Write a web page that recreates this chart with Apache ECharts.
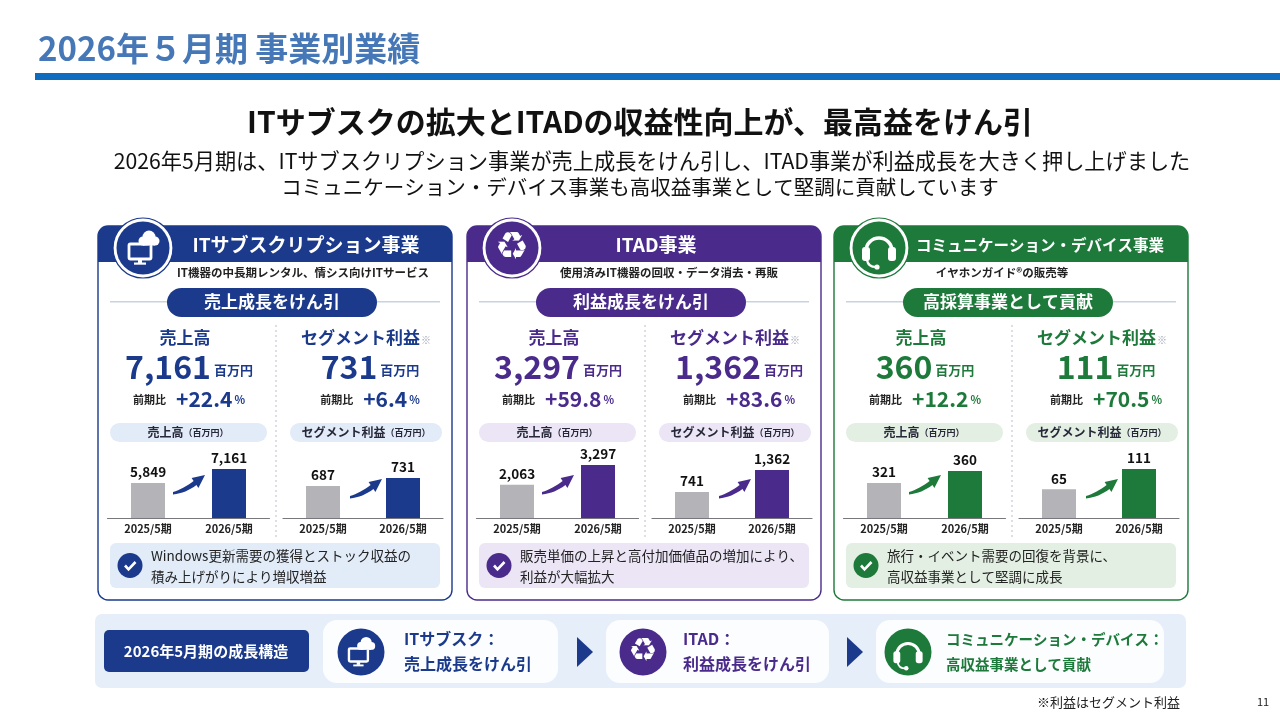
<!DOCTYPE html>
<html>
<head>
<meta charset="utf-8">
<script src="https://cdn.jsdelivr.net/npm/echarts@6/dist/echarts.min.js"></script>
<style>
  html, body { margin: 0; padding: 0; background: #fff; }
  #main { width: 1280px; height: 720px; }
</style>
</head>
<body>
<div id="main"></div>
<script>
// データ
const periods = ['2025/5期', '2026/5期'];
const segmentNames = ['ITサブスクリプション事業', 'ITAD事業', 'コミュニケーション・デバイス事業'];
const segmentDesc = ['IT機器の中長期レンタル、情シス向けITサービス', '使用済みIT機器の回収・データ消去・再販', 'イヤホンガイド®の販売等'];
const segmentRole = ['売上成長をけん引', '利益成長をけん引', '高採算事業として貢献'];
const salesPrev = [5849, 2063, 321];
const salesCurr = [7161, 3297, 360];
const profitPrev = [687, 741, 65];
const profitCurr = [731, 1362, 111];
const salesGrowth = ['+22.4', '+59.8', '+12.2'];
const profitGrowth = ['+6.4', '+83.6', '+70.5'];
// 軸の範囲（参照画像の棒の高さに合わせる）
const salesAxisMin = [2570, 0, 207];
const salesAxisMax = [8190, 3730, 402];
const profitAxisMin = [511, 0, 0];
const profitAxisMax = [841, 1702, 136];
const noteLines = [
	['Windows更新需要の獲得とストック収益の', '積み上げがりにより増収増益'],
	['販売単価の上昇と高付加価値品の増加により、', '利益が大幅拡大'],
	['旅行・イベント需要の回復を背景に、', '高収益事業として堅調に成長']
];
const flowTitle = ['ITサブスク：', 'ITAD：', 'コミュニケーション・デバイス：'];
const flowText = ['売上成長をけん引', '利益成長をけん引', '高収益事業として貢献'];

const FONT = '"Noto Sans CJK JP", "Noto Sans", sans-serif';
const colors = ['#1b3a8c', '#4a2b8c', '#1d7a3a'];
const tints = ['#e2ebf8', '#ebe5f5', '#e3efe2'];
const greyBar = '#b3b3b8';

// レイアウト
const panelX = [98, 467, 834];
const panelW = 354;
const panelTop = 226;
const panelBottom = 600;
const titleRel = [208, 189, 206];
const titleSize = [19, 19, 15.5];
const descRel = [205, 202, 168];

let els = [];

function fmt(v) {
	return v.toLocaleString('en-US');
}

function txt(x, y, str, size, color, weight, align, extra) {
	let el = {
		type: 'text', x: x, y: y, z: 10,
		style: {
			text: str, fill: color, fontSize: size, fontWeight: weight || 'normal', fontFamily: FONT,
			align: align || 'center', textAlign: align || 'center',
			verticalAlign: 'middle', textVerticalAlign: 'middle'
		}
	};
	if (extra) Object.assign(el.style, extra);
	return el;
}

function rect(x, y, w, h, fill, r, stroke, lw, z) {
	return {
		type: 'rect', z: z || 1,
		shape: { x: x, y: y, width: w, height: h, r: r || 0 },
		style: { fill: fill, stroke: stroke || null, lineWidth: lw || 0 }
	};
}

// 2次ベジェを折れ線に
function quad(p0, c, p1, n) {
	let pts = [];
	for (let k = 1; k <= n; k++) {
		let t = k / n, u = 1 - t;
		pts.push([u * u * p0[0] + 2 * u * t * c[0] + t * t * p1[0], u * u * p0[1] + 2 * u * t * c[1] + t * t * p1[1]]);
	}
	return pts;
}

// アイコン（ローカル座標、半径27基準）
function icon(type, cx, cy, s, color) {
	let ch = [];
	if (type === 0) {
		ch.push({ type: 'rect', shape: { x: -14, y: -4, width: 22, height: 15, r: 1.5 }, style: { fill: color, stroke: '#fff', lineWidth: 2.8 } });
		ch.push({ type: 'rect', shape: { x: -5, y: 11, width: 4, height: 4 }, style: { fill: '#fff' } });
		ch.push({ type: 'rect', shape: { x: -9, y: 14.5, width: 12, height: 2.2 }, style: { fill: '#fff' } });
		ch.push({ type: 'circle', shape: { cx: 6, cy: -11, r: 8.5 }, style: { fill: color } });
		ch.push({ type: 'circle', shape: { cx: 6, cy: -11, r: 6.5 }, style: { fill: '#fff' } });
		ch.push({ type: 'circle', shape: { cx: 0, cy: -7, r: 4.5 }, style: { fill: '#fff' } });
		ch.push({ type: 'circle', shape: { cx: 12, cy: -7, r: 4.5 }, style: { fill: '#fff' } });
		ch.push({ type: 'rect', shape: { x: 0, y: -9, width: 12, height: 6.5 }, style: { fill: '#fff' } });
	} else if (type === 1) {
		ch.push({
			type: 'text', x: 0, y: 1, style: {
				text: '\u267B', fill: '#fff', fontSize: 38, fontFamily: '"DejaVu Sans", sans-serif',
				align: 'center', textAlign: 'center', verticalAlign: 'middle', textVerticalAlign: 'middle'
			}
		});
	} else {
		ch.push({ type: 'arc', shape: { cx: 0, cy: 3, r: 13, startAngle: Math.PI, endAngle: Math.PI * 2, clockwise: true }, style: { fill: null, stroke: '#fff', lineWidth: 3.5 } });
		ch.push({ type: 'rect', shape: { x: -17, y: -1, width: 8, height: 14, r: 3 }, style: { fill: '#fff' } });
		ch.push({ type: 'rect', shape: { x: 9, y: -1, width: 8, height: 14, r: 3 }, style: { fill: '#fff' } });
		ch.push({ type: 'bezierCurve', shape: { x1: -12, y1: 12, cpx1: -11, cpy1: 19, x2: -3, y2: 19 }, style: { fill: null, stroke: '#fff', lineWidth: 2.2 } });
		ch.push({ type: 'circle', shape: { cx: -2, cy: 19, r: 2.6 }, style: { fill: '#fff' } });
	}
	ch.forEach(function (e) { e.z = 14; });
	return { type: 'group', x: cx, y: cy, scaleX: s, scaleY: s, z: 14, children: ch };
}

function checkMark(cx, cy, color) {
	els.push({ type: 'circle', z: 5, shape: { cx: cx, cy: cy, r: 12.5 }, style: { fill: color } });
	els.push({ type: 'polyline', z: 6, shape: { points: [[cx - 5, cy], [cx - 1.5, cy + 3.8], [cx + 5.5, cy - 3.5]] }, style: { stroke: '#fff', lineWidth: 2.6, fill: null } });
}

function swoosh(x, y, color) {
	let pts = [[0, 0]];
	pts = pts.concat(quad([0, 0], [10, -3], [20.6, -11], 8));
	pts.push([18.6, -13.9], [32, -17], [25.4, -4.1], [23.4, -7]);
	pts = pts.concat(quad([23.4, -7], [13, 1], [0, 2.5], 8));
	els.push({
		type: 'polygon', z: 8, x: x, y: y,
		shape: { points: pts },
		style: { fill: color }
	});
}

// ヘッダー
els.push(txt(38, 48, '2026年５月期 事業別業績', 33, '#4677b6', 'bold', 'left'));
els.push(rect(35, 73, 1245, 7, '#0f6bbd', 0));
els.push(txt(640, 122, 'ITサブスクの拡大とITADの収益性向上が、最高益をけん引', 30, '#111', 'bold'));
els.push(txt(652, 161, '2026年5月期は、ITサブスクリプション事業が売上成長をけん引し、ITAD事業が利益成長を大きく押し上げました', 21.2, '#111', 'normal'));
els.push(txt(640, 187, 'コミュニケーション・デバイス事業も高収益事業として堅調に貢献しています', 20.5, '#111', 'normal'));

// パネル
let grids = [], xAxes = [], yAxes = [], series = [];

function addChart(idx, left, width, prev, curr, min, max, color) {
	grids.push({ left: left, top: 458, width: width, height: 60 });
	xAxes.push({
		type: 'category', gridIndex: idx, data: periods, z: 6,
		axisLine: { onZero: false, lineStyle: { color: '#77777d', width: 1.2 } },
		axisTick: { show: false },
		axisLabel: { color: '#222', fontSize: 11, fontWeight: 'bold', fontFamily: FONT, margin: 5 }
	});
	yAxes.push({ type: 'value', gridIndex: idx, min: min, max: max, show: false, splitLine: { show: false } });
	series.push({
		type: 'bar', xAxisIndex: idx, yAxisIndex: idx, barWidth: 34, clip: true, z: 4,
		data: [{ value: prev, itemStyle: { color: greyBar } }, { value: curr, itemStyle: { color: color } }],
		label: {
			show: true, position: 'top', distance: 4, color: '#111', fontSize: 13.5, fontWeight: 'bold', fontFamily: FONT,
			formatter: function (p) { return fmt(p.value); }
		}
	});
}

for (let i = 0; i < 3; i++) {
	let x0 = panelX[i];
	let c = colors[i];

	// 枠と見出し帯
	els.push(rect(x0, panelTop, panelW, panelBottom - panelTop, '#fff', 10, c, 1.4, 0));
	els.push({ type: 'rect', z: 1, shape: { x: x0, y: panelTop, width: panelW, height: 36, r: [10, 10, 0, 0] }, style: { fill: c } });
	els.push({ type: 'circle', z: 11, shape: { cx: x0 + 45, cy: 248, r: 30 }, style: { fill: '#fff', stroke: c, lineWidth: 1.2 } });
	els.push({ type: 'circle', z: 12, shape: { cx: x0 + 45, cy: 248, r: 26.5 }, style: { fill: c } });
	els.push(icon(i, x0 + 45, 248, 1, c));
	els.push(txt(x0 + titleRel[i], 245, segmentNames[i], titleSize[i], '#fff', 'bold'));
	els.push(txt(x0 + descRel[i], 273, segmentDesc[i], 11.5, '#222', 'bold'));

	// 役割ピル
	els.push(rect(x0 + 12, 301, panelW - 24, 1.5, '#c9d3e0', 0));
	els.push(rect(x0 + 69, 288, 210, 29, c, 14.5, null, 0, 2));
	els.push(txt(x0 + 174, 302, segmentRole[i], 17, '#fff', 'bold'));

	// 数値
	let colL = x0 + 87, colR = x0 + 268;
	els.push(txt(colL, 338, '売上高', 17, c, 'bold'));
	[[colL, salesCurr[i], salesGrowth[i]], [colR, profitCurr[i], profitGrowth[i]]].forEach(function (col, k) {
		let cx = col[0];
		if (k === 1) {
			els.push({
				type: 'text', x: cx, y: 338, z: 10,
				style: {
					text: '{h|セグメント利益}{s|※}', align: 'center', textAlign: 'center', verticalAlign: 'middle', textVerticalAlign: 'middle',
					rich: {
						h: { fontSize: 17, fontWeight: 'bold', fill: c, color: c, fontFamily: FONT },
						s: { fontSize: 10, fill: '#9aa0b0', color: '#9aa0b0', fontFamily: FONT, verticalAlign: 'bottom', padding: [0, 0, 1, 1] }
					}
				}
			});
		}
		els.push({
			type: 'text', x: cx + 4, y: 367, z: 10,
			style: {
				text: '{n|' + fmt(col[1]) + '}{u|百万円}', align: 'center', textAlign: 'center', verticalAlign: 'middle', textVerticalAlign: 'middle',
				rich: {
					n: { fontSize: 32, fontWeight: 'bold', fill: c, color: c, fontFamily: FONT, verticalAlign: 'bottom' },
					u: { fontSize: 13, fontWeight: 'bold', fill: c, color: c, fontFamily: FONT, verticalAlign: 'bottom', padding: [0, 0, 6, 3] }
				}
			}
		});
		els.push({
			type: 'text', x: cx + 4, y: 399, z: 10,
			style: {
				text: '{a|前期比}{b|' + col[2] + '}{c|%}', align: 'center', textAlign: 'center', verticalAlign: 'middle', textVerticalAlign: 'middle',
				rich: {
					a: { fontSize: 11, fontWeight: 'bold', fill: '#222', color: '#222', fontFamily: FONT, verticalAlign: 'bottom', padding: [0, 10, 4, 0] },
					b: { fontSize: 21, fontWeight: 'bold', fill: c, color: c, fontFamily: FONT, verticalAlign: 'bottom' },
					c: { fontSize: 11, fontWeight: 'bold', fill: c, color: c, fontFamily: FONT, verticalAlign: 'bottom', padding: [0, 0, 4, 2] }
				}
			}
		});
	});

	// 区切り線
	els.push({ type: 'line', z: 2, shape: { x1: x0 + 178, y1: 325, x2: x0 + 178, y2: 540 }, style: { stroke: '#b8bfcc', lineWidth: 1, lineDash: [2, 3] } });

	// グラフ見出し
	els.push(rect(x0 + 12, 423, 157, 19, tints[i], 9.5, null, 0, 2));
	els.push(rect(x0 + 192, 423, 152, 19, tints[i], 9.5, null, 0, 2));
	[[x0 + 90, '売上高'], [x0 + 268, 'セグメント利益']].forEach(function (p) {
		els.push({
			type: 'text', x: p[0], y: 432.5, z: 10,
			style: {
				text: '{h|' + p[1] + '}{s|（百万円）}', align: 'center', textAlign: 'center', verticalAlign: 'middle', textVerticalAlign: 'middle',
				rich: {
					h: { fontSize: 12, fontWeight: 'bold', fill: '#26283a', color: '#26283a', fontFamily: FONT, verticalAlign: 'bottom' },
					s: { fontSize: 9, fontWeight: 'bold', fill: '#26283a', color: '#26283a', fontFamily: FONT, verticalAlign: 'bottom', padding: [0, 0, 1, 0] }
				}
			}
		});
	});

	// 棒グラフ
	addChart(i * 2, x0 + 9.5, 162, salesPrev[i], salesCurr[i], salesAxisMin[i], salesAxisMax[i], c);
	addChart(i * 2 + 1, x0 + 185, 160, profitPrev[i], profitCurr[i], profitAxisMin[i], profitAxisMax[i], c);
	swoosh(x0 + 75, 492, c);
	swoosh(x0 + 252, 496, c);

	// コメント
	els.push(rect(x0 + 12, 543, panelW - 24, 45, tints[i], 6, null, 0, 2));
	checkMark(x0 + 32, 565.5, c);
	els.push(txt(x0 + 53, 556, noteLines[i][0], 13.5, '#222', 'normal', 'left'));
	els.push(txt(x0 + 53, 577, noteLines[i][1], 13.5, '#222', 'normal', 'left'));
}

// 成長構造
els.push(rect(95, 614, 1091, 74, '#e6eef9', 7, null, 0, 0));
els.push(rect(104, 630, 205, 42, '#1b3a8c', 5, null, 0, 2));
els.push(txt(206, 651, '2026年5月期の成長構造', 15, '#fff', 'bold'));
const flowBoxX = [323, 606, 876];
const flowBoxW = [235, 223, 288];
const flowIconX = [361, 643, 908];
const flowTextX = [404, 683, 946];
const flowSize = [16, 16, 14.5];
for (let i = 0; i < 3; i++) {
	let bx = flowBoxX[i];
	els.push(rect(bx, 620, flowBoxW[i], 63, '#fbfdff', 14, null, 0, 2));
	els.push({ type: 'circle', z: 12, shape: { cx: flowIconX[i], cy: 652, r: 23.5 }, style: { fill: colors[i] } });
	els.push(icon(i, flowIconX[i], 652, 0.86, colors[i]));
	els.push(txt(flowTextX[i], 639, flowTitle[i], flowSize[i], colors[i], 'bold', 'left'));
	els.push(txt(flowTextX[i], 664, flowText[i], flowSize[i], colors[i], 'bold', 'left'));
	if (i < 2) {
		let tx = i === 0 ? 577 : 847;
		els.push({ type: 'polygon', z: 3, shape: { points: [[tx, 637], [tx + 16, 652], [tx, 667]] }, style: { fill: '#1b3a8c' } });
	}
}
els.push(txt(1180, 702, '※利益はセグメント利益', 13, '#222', 'normal', 'right'));
els.push(txt(1263, 702, '11', 11, '#222', 'normal'));

let chart = echarts.init(document.getElementById('main'));
chart.setOption({
	animation: false,
	backgroundColor: '#fff',
	graphic: { elements: els },
	grid: grids,
	xAxis: xAxes,
	yAxis: yAxes,
	series: series
});
</script>
</body>
</html>
